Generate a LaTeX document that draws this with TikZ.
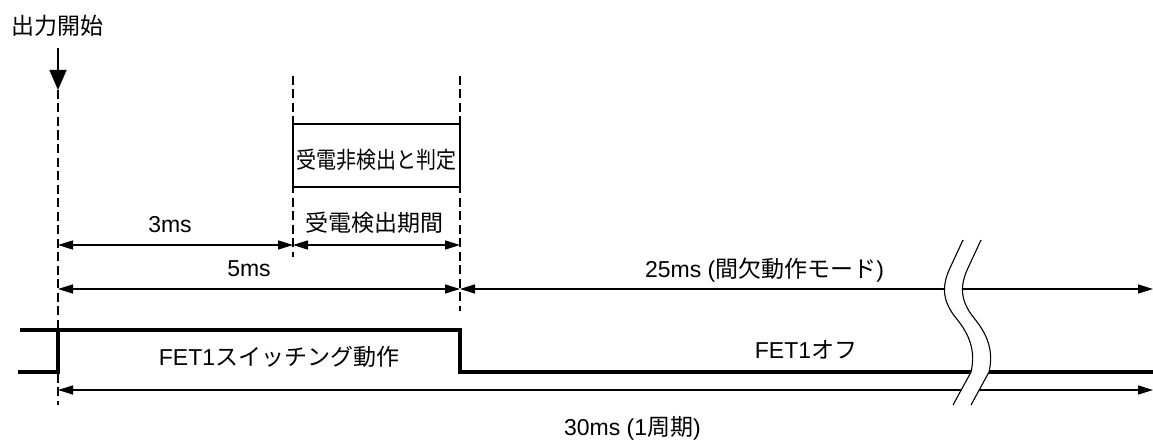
\documentclass[tikz,border=0pt]{standalone}
\usepackage{fontspec}
\setmainfont{Liberation Sans}
\newfontfamily\cjk{Noto Sans CJK JP}
\usetikzlibrary{arrows.meta}
\begin{document}
\begin{tikzpicture}[x=1pt,y=-1pt,
  txt/.style={font=\fontsize{23}{26}\selectfont, inner sep=0pt, anchor=base},
  dim/.style={line width=1.4pt, {Triangle[length=15pt,width=9pt]}-{Triangle[length=15pt,width=9pt]}},
  guide/.style={line width=1.3pt, dash pattern=on 9pt off 4.5pt},
  signal/.style={line width=3.5pt, line join=miter},
  wave/.style={line width=1.1pt},
  ]
\useasboundingbox (0,0) rectangle (1153,441);

% named positions
\coordinate (g1top) at (58,90);   \coordinate (g1bot) at (58,405);
\coordinate (g2top) at (293,76);  \coordinate (g2bot) at (293,257);
\coordinate (g3top) at (460,76);  \coordinate (g3bot) at (460,311);
\coordinate (start) at (58,48);
\coordinate (a3L) at (58,245);  \coordinate (a3R) at (293,245);
\coordinate (aDL) at (293,245); \coordinate (aDR) at (460,245);
\coordinate (a5L) at (58,289);  \coordinate (a5R) at (460,289);
\coordinate (a25L) at (460,289); \coordinate (a25R) at (1153,289);
\coordinate (a30L) at (58,390); \coordinate (a30R) at (1153,390);
\coordinate (s0) at (18,372); \coordinate (s1) at (58,372); \coordinate (s2) at (58,330);
\coordinate (h0) at (20,330);
\coordinate (s3) at (460,330); \coordinate (s4) at (460,372); \coordinate (s5) at (1153,372);

% guide lines
\draw[guide] (g1top) -- (g1bot);
\draw[guide] (g2top) -- (g2bot);
\draw[guide] (g3top) -- (g3bot);

% start arrow
\node[txt] (lstart) at (57,35) {\cjk 出力開始};
\draw[line width=1.4pt, -{Triangle[length=20pt,width=17pt]}] (start) -- (g1top);

% detection box
\node[draw, line width=1.2pt, minimum width=167pt, minimum height=63pt, inner sep=0pt, fill=white] (box) at (376.5,155.5) {};
\node[txt] (lbox) at (376.5,168) {\scalebox{0.87}[1]{\cjk 受電非検出と判定}};

% dimension arrows
\draw[dim] (a3L) -- (a3R);
\draw[dim] (aDL) -- (aDR);
\draw[dim] (a5L) -- (a5R);
\draw[dim] (a25L) -- (a25R);
\draw[dim] (a30L) -- (a30R);

\node[txt] (l3) at (170,232) {3ms};
\node[txt] (lD) at (374,231) {\cjk 受電検出期間};
\node[txt] (l5) at (249,276) {5ms};
\node[txt] (l25) at (764.5,277) {25ms (\cjk 間欠動作モード\rmfamily)};
\node[txt] (l30) at (632.5,435) {30ms (1\cjk 周期\rmfamily)};

% signal
\draw[signal] (s0) -- (s1) -- (s2);
\draw[signal] (h0) -- (s3) -- (s4) -- (s5);
\node[txt] (lsw) at (279,365) {FET1\cjk スイッチング動作};
\node[txt] (loff) at (806,358) {FET1\cjk オフ};

% break mark
\fill[white] (963,240) -- (950,268) .. controls (941,287) and (943,302) .. (956,318)
  .. controls (969,334) and (976,350) .. (971,372) -- (953,405)
  -- (971,405) -- (989,372) .. controls (994,350) and (987,334) .. (974,318)
  .. controls (961,302) and (959,287) .. (968,268) -- (981,240) -- cycle;
\draw[wave] (963,240) -- (950,268) .. controls (941,287) and (943,302) .. (956,318)
  .. controls (969,334) and (976,350) .. (971,372) -- (953,405);
\draw[wave] (981,240) -- (968,268) .. controls (959,287) and (961,302) .. (974,318)
  .. controls (987,334) and (994,350) .. (989,372) -- (971,405);
\end{tikzpicture}
\end{document}
